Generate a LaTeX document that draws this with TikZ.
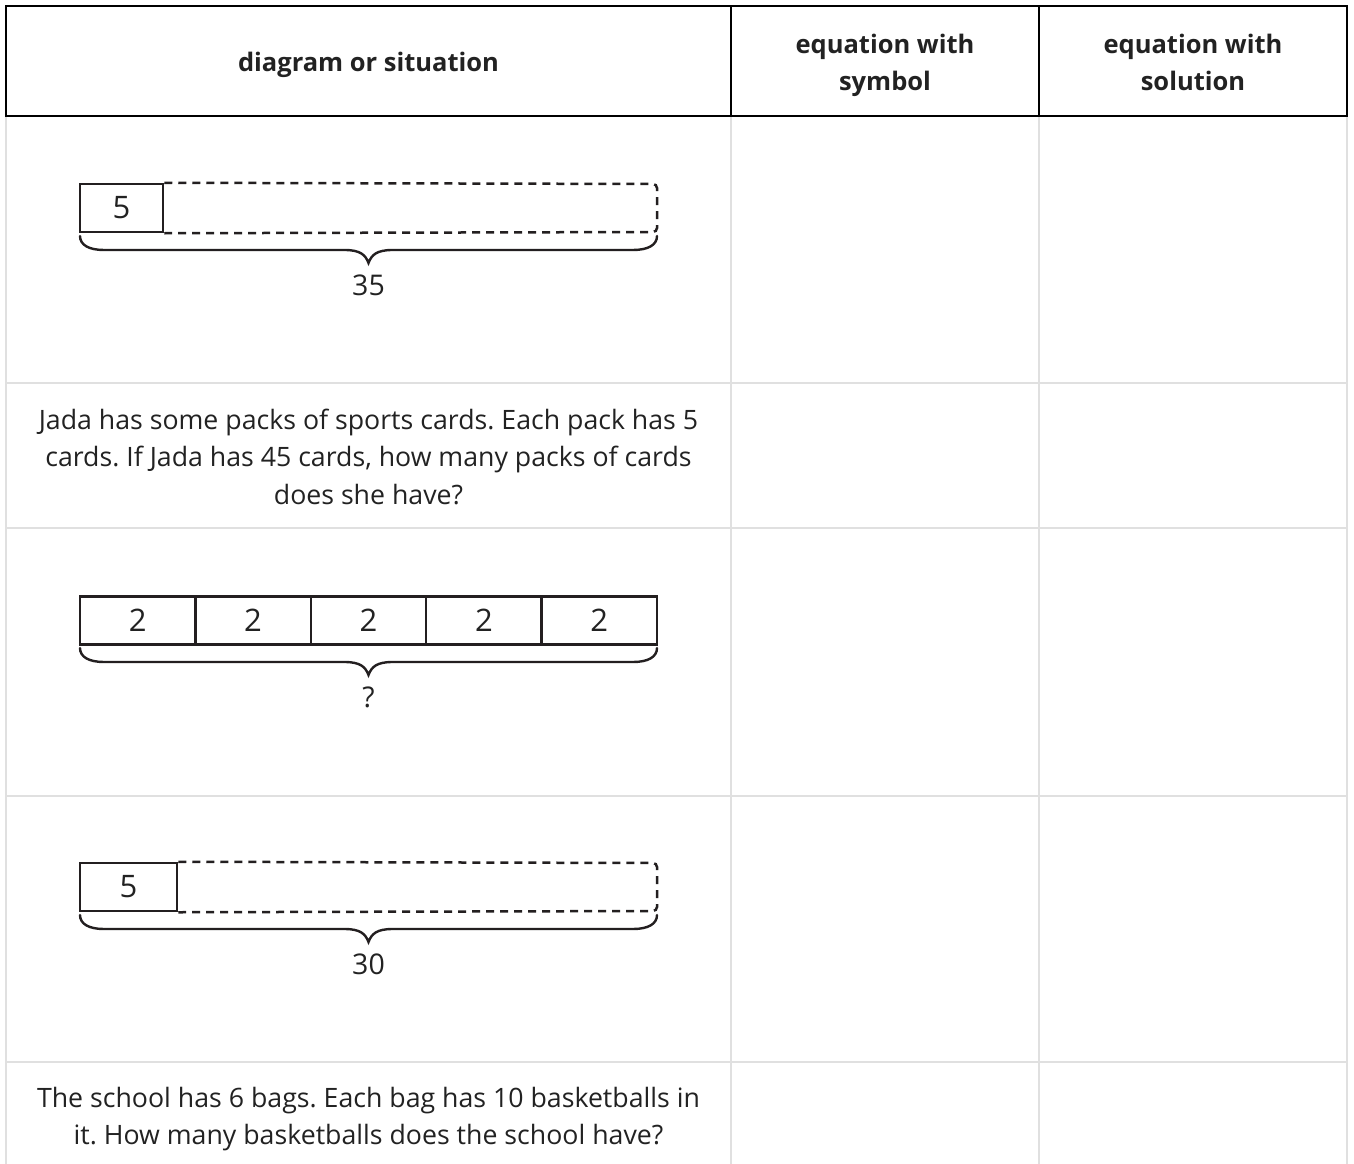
\documentclass[tikz,border=0pt]{standalone}
\usepackage{fontspec}
\setmainfont{Open Sans}
\frenchspacing
\definecolor{ink}{HTML}{231F20}
\definecolor{txt}{HTML}{222222}
\definecolor{grid}{HTML}{E0E0E0}
\newcommand\tapebrace[3]{%
  \draw[brc] (#1,#3) .. controls (#1,#3+9) and (#1+9,#3+14) .. (#1+24,#3+14)
    -- ({(#1+#2)/2-24},#3+14) .. controls ({(#1+#2)/2-8},#3+14) and ({(#1+#2)/2-3},#3+19) .. ({(#1+#2)/2},#3+27)
    .. controls ({(#1+#2)/2+3},#3+19) and ({(#1+#2)/2+8},#3+14) .. ({(#1+#2)/2+24},#3+14)
    -- (#2-24,#3+14) .. controls (#2-9,#3+14) and (#2,#3+9) .. (#2,#3);}
\begin{document}
\begin{tikzpicture}[x=1pt,y=-1pt,
  body/.style={text=txt,font=\fontsize{26.7}{37.5}\selectfont,inner sep=0pt,anchor=base},
  num/.style={text=txt,font=\fontsize{28.5}{37.5}\selectfont,inner sep=0pt},
  head/.style={text=txt,font=\fontsize{25.5}{37.5}\selectfont\bfseries,inner sep=0pt,anchor=base},
  cell/.style={draw=ink,line width=2.5pt,minimum height=48pt,inner sep=0pt,text=txt,font=\fontsize{31}{32}\selectfont},
  dashbox/.style={draw=ink,line width=2.5pt,dash pattern=on 8pt off 6pt,rounded corners=4pt},
  brc/.style={draw=ink,line width=2.4pt,line cap=round},
  gridline/.style={draw=grid,line width=1.5pt},
  border/.style={draw=black,line width=2.8pt}]
\useasboundingbox (0,0) rectangle (1354,1164);
% grid below header
\foreach \yy in {383,528,796,1062} \draw[gridline] (6,\yy) -- (1347,\yy);
\foreach \xx in {6,731,1039,1347} \draw[gridline] (\xx,116) -- (\xx,1164);
% header
\draw[border] (6,6) rectangle (1347,116);
\draw[border] (731,6) -- (731,116);
\draw[border] (1039,6) -- (1039,116);
\node[head] (h1) at (368.5,71) {diagram or situation};
\node[head] (h2a) at (885,53) {equation with};
\node[head] (h2b) at (885,90) {symbol};
\node[head] (h3a) at (1193,53) {equation with};
\node[head] (h3b) at (1193,90) {solution};
% row 1
\node[cell,minimum width=83pt] (r1a) at (121.5,208) {5};
\draw[dashbox] (r1a.north east) -- (657,184) -- (657,232) -- (r1a.south east);
\tapebrace{80}{657}{236}
\node[num] (r1l) at (368.5,285.5) {35};
% row 2
\node[body] (r2a) at (368.5,429) {Jada has some packs of sports cards. Each pack has 5};
\node[body] (r2b) at (368.5,466.5) {cards. If Jada has 45 cards, how many packs of cards};
\node[body] (r2c) at (368.5,504) {does she have?};
% row 3
\foreach \i in {0,...,4}
  \node[cell,minimum width=115.4pt] (r3c\i) at ({80+57.7+115.4*\i},620.5) {2};
\tapebrace{80}{657}{648}
\node[num] (r3l) at (368.5,697.5) {?};
% row 4
\node[cell,minimum width=97pt] (r4a) at (128.5,887) {5};
\draw[dashbox] (r4a.north east) -- (657,863) -- (657,911) -- (r4a.south east);
\tapebrace{80}{657}{915}
\node[num] (r4l) at (368.5,964.5) {30};
% row 5
\node[body] (r5a) at (368.5,1107) {The school has 6 bags. Each bag has 10 basketballs in};
\node[body] (r5b) at (368.5,1144.5) {it. How many basketballs does the school have?};
\end{tikzpicture}
\end{document}
